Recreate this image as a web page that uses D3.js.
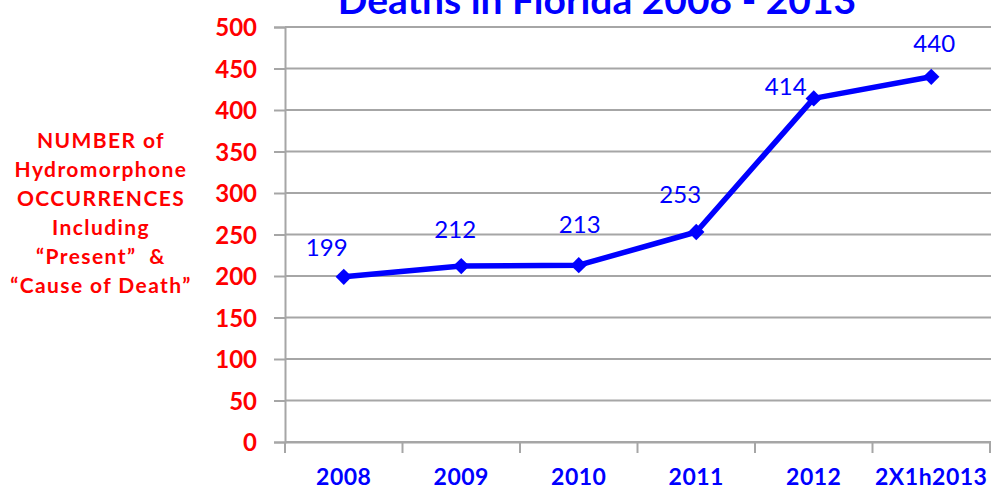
<!DOCTYPE html>
<html><head><meta charset="utf-8">
<script src="https://cdn.jsdelivr.net/npm/d3@7"></script>
<style>body{margin:0;background:#fff;}svg{display:block;font-family:Lato,"Open Sans",sans-serif;}text{white-space:pre;}</style>
</head><body>
<script>
const categories = ["2008","2009","2010","2011","2012","2X1h2013"];
const values = [199,212,213,253,414,440];
const yTicks = [0,50,100,150,200,250,300,350,400,450,500];
const title = "Deaths in Florida 2008 - 2013";
const yTitleLines = ["NUMBER of","Hydromorphone","OCCURRENCES","Including","\u201cPresent\u201d  &","\u201cCause of Death\u201d"];

const W = 991, H = 489;
const svg = d3.select("body").append("svg").attr("width", W).attr("height", H);
const x = d3.scaleBand().domain(categories).range([285, 990]);
const y = d3.scaleLinear().domain([0, 500]).range([442, 27]);

// gridlines
svg.append("g").selectAll("line").data(yTicks).join("line")
  .attr("x1", 285).attr("x2", 991)
  .attr("y1", d => y(d)).attr("y2", d => y(d))
  .attr("stroke", "#a6a6a6").attr("stroke-width", 2);

// y axis
const ya = svg.append("g").attr("transform", "translate(285,0)")
  .call(d3.axisLeft(y).tickValues(yTicks).tickSize(11).tickPadding(17));
ya.select(".domain").attr("stroke", "#a6a6a6").attr("stroke-width", 2);
ya.selectAll(".tick line").attr("stroke", "#a6a6a6").attr("stroke-width", 2);
ya.selectAll("text").attr("fill", "#ff0000").attr("font-size", 24).attr("font-weight", "bold")
  .attr("font-family", "Lato,sans-serif").attr("dy", "0.36em");

// x axis
const xa = svg.append("g").attr("transform", "translate(0,442)")
  .call(d3.axisBottom(x).tickSize(0).tickPadding(27));
xa.select(".domain").attr("stroke", "#a6a6a6").attr("stroke-width", 2);
xa.selectAll("text").attr("fill", "#0000ff").attr("font-size", 23).attr("font-weight", "bold")
  .attr("font-family", "Lato,sans-serif").attr("letter-spacing", 0.5);
// x ticks at band edges
const edges = categories.map(c => x(c)).concat([x.range()[1]]);
svg.append("g").selectAll("line").data(edges).join("line")
  .attr("x1", d => d).attr("x2", d => d)
  .attr("y1", 442).attr("y2", 453)
  .attr("stroke", "#a6a6a6").attr("stroke-width", 2);

// line
const cx = d => x(d) + x.bandwidth() / 2;
svg.append("path").datum(values.map((v,i) => [categories[i], v]))
  .attr("fill", "none").attr("stroke", "#0000ff").attr("stroke-width", 5.5)
  .attr("stroke-linejoin", "round")
  .attr("d", d3.line().x(d => cx(d[0])).y(d => y(d[1])));

// markers
svg.append("g").selectAll("path").data(values).join("path")
  .attr("transform", (d,i) => `translate(${cx(categories[i])},${y(d)})`)
  .attr("d", d3.symbol(d3.symbolDiamond2, 170)())
  .attr("fill", "#0000ff");

// data labels (offsets relative to each point, as placed in the original)
const labelShiftX = [-17, -6, 1, -16, -28, 3];
const labelShiftY = [-29, -37, -41, -38, -12, -33];
svg.append("g").selectAll("text").data(values).join("text")
  .attr("x", (d,i) => cx(categories[i]) + labelShiftX[i])
  .attr("y", (d,i) => y(d) + labelShiftY[i])
  .attr("dy", "0.36em")
  .attr("text-anchor", "middle")
  .attr("fill", "#0000ff").attr("font-size", 24)
  .text(d => d);

// title
svg.append("text").attr("x", 597).attr("y", 14).attr("text-anchor", "middle")
  .attr("fill", "#0000ff").attr("font-size", 39).attr("font-weight", "bold").text(title);

// y title
const yt = svg.append("text").attr("text-anchor", "middle").attr("fill", "#ff0000")
  .attr("font-size", 21).attr("font-weight", "bold").attr("letter-spacing", 1.4);
yTitleLines.forEach((t,i) => yt.append("tspan").attr("x", 101).attr("y", 148 + i * 29).text(t));
</script>
</body></html>
